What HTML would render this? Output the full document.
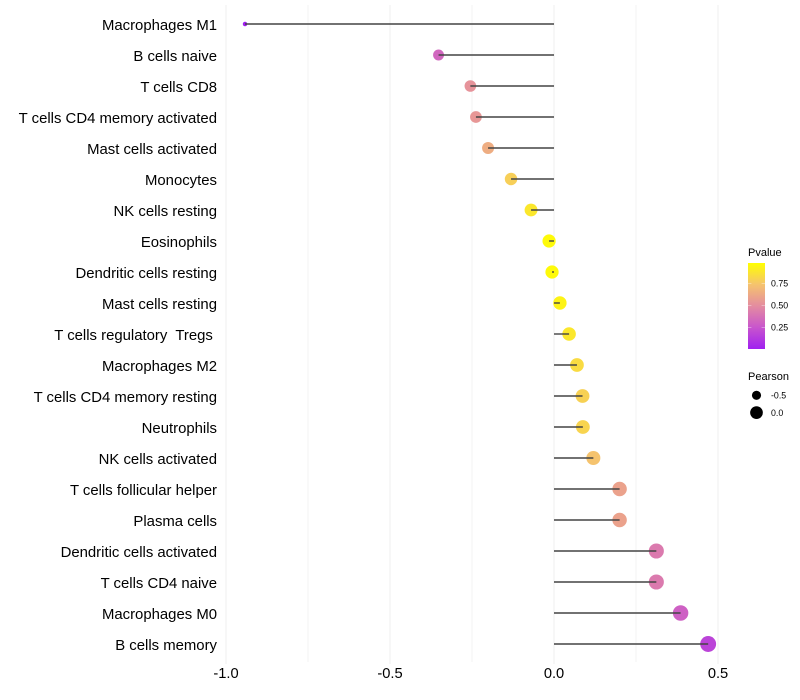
<!DOCTYPE html>
<html>
<head>
<meta charset="utf-8">
<title>Lollipop chart</title>
<style>
html,body{margin:0;padding:0;background:#fff;width:800px;height:700px;overflow:hidden}
svg{display:block}
text{font-family:"Liberation Sans",sans-serif;white-space:pre}
</style>
</head>
<body>
<svg id="chart" xmlns="http://www.w3.org/2000/svg" width="800" height="700" viewBox="0 0 800 700"></svg>
<script>
const categories = ["Macrophages M1","B cells naive","T cells CD8","T cells CD4 memory activated","Mast cells activated","Monocytes","NK cells resting","Eosinophils","Dendritic cells resting","Mast cells resting","T cells regulatory  Tregs ","Macrophages M2","T cells CD4 memory resting","Neutrophils","NK cells activated","T cells follicular helper","Plasma cells","Dendritic cells activated","T cells CD4 naive","Macrophages M0","B cells memory"];
const pearson = [-0.942,-0.352,-0.255,-0.238,-0.201,-0.131,-0.07,-0.015,-0.006,0.018,0.046,0.07,0.087,0.088,0.12,0.2,0.2,0.312,0.312,0.386,0.47];
const pvalue = [0.002,0.33,0.53,0.55,0.65,0.8,0.9,0.98,0.98,0.95,0.9,0.85,0.81,0.82,0.75,0.6,0.6,0.42,0.42,0.3,0.17];
const xTicks = [-1,-0.5,0,0.5];
const xTickLabels = ["-1.0","-0.5","0.0","0.5"];
const xMinorTicks = [-0.75,-0.25,0.25];
const colorTicks = [0.25,0.5,0.75];
const colorTickLabels = ["0.25","0.50","0.75"];
const sizeLegendValues = [-0.5,0];
const sizeLegendLabels = ["-0.5","0.0"];

const NS = "http://www.w3.org/2000/svg";
const svg = document.getElementById("chart");
function mk(tag, attrs, parent, txt){
  const e = document.createElementNS(NS, tag);
  for (const k in attrs) e.setAttribute(k, attrs[k]);
  if (txt !== undefined) e.textContent = txt;
  (parent || svg).appendChild(e);
  return e;
}
const xScale = v => 554 + v * 328;
const yScale = i => 24 + i * 31;
const diameter = v => Math.sqrt(Math.max(14, 161 + 155 * v));
const cstops = [[0,[160,32,240]],[0.25,[200,85,205]],[0.5,[228,140,160]],[0.75,[245,195,110]],[1,[255,255,0]]];
function colorScale(p){
  p = Math.min(1, Math.max(0, p));
  for (let i = 1; i < cstops.length; i++){
    if (p <= cstops[i][0]){
      const a = cstops[i-1], b = cstops[i], t = (p - a[0]) / (b[0] - a[0]);
      const c = a[1].map((x, j) => Math.round(x + (b[1][j] - x) * t));
      return "rgb(" + c.join(",") + ")";
    }
  }
  return "rgb(255,255,0)";
}

// grid
const gridG = mk("g", {});


xMinorTicks.forEach(v => {
  const l = mk("line", {x1:xScale(v), x2:xScale(v), y1:5, y2:662, stroke:"#f3f3f3", "stroke-width":1}, gridG);
  
  
});
xTicks.forEach(v => {
  const l = mk("line", {x1:xScale(v), x2:xScale(v), y1:5, y2:664, stroke:"#efefef", "stroke-width":1}, gridG);
  
  
});

// points, then stems on top
categories.forEach((c, i) => {
  const p = mk("circle", {cx:xScale(pearson[i]), cy:yScale(i), r:diameter(pearson[i]) / 2 + 0.3, fill:colorScale(pvalue[i])});
  
  
});
categories.forEach((c, i) => {
  const s = mk("line", {x1:xScale(0), x2:xScale(pearson[i]), y1:yScale(i), y2:yScale(i), stroke:"#444", "stroke-width":1.4});
  
  
  const t = mk("text", {x:217, y:yScale(i) + 6, "text-anchor":"end", "font-size":"14.9", fill:"#000"}, svg, c);
  
  
});

// x axis labels
xTicks.forEach((v, i) => {
  const t = mk("text", {x:xScale(v), y:678, "text-anchor":"middle", "font-size":"14.67", fill:"#000"}, svg, xTickLabels[i]);
  
  
});

// colour legend
const legendBottom = 349, legendPerUnit = 88, legendTop = 263;
const colorValueY = p => 349.4 - p * legendPerUnit;
const defs = mk("defs", {});
const grad = mk("linearGradient", {id:"pgrad", x1:0, y1:1, x2:0, y2:0}, defs);
for (let k = 0; k <= 20; k++){
  mk("stop", {offset:(k / 20), "stop-color":colorScale(k / 20)}, grad);
}
const cTitle = mk("text", {x:748, y:256, "font-size":"11", fill:"#000"}, svg, "Pvalue");


const bar = mk("rect", {x:748, y:legendTop, width:17, height:legendBottom - legendTop, fill:"url(#pgrad)"});


colorTicks.forEach((v, i) => {
  const y = colorValueY(v);
  const a = mk("line", {x1:748, x2:751.4, y1:y, y2:y, stroke:"#fff", "stroke-opacity":0.6, "stroke-width":0.6});
  
  
  const b = mk("line", {x1:761.6, x2:765, y1:y, y2:y, stroke:"#fff", "stroke-opacity":0.6, "stroke-width":0.6});
  
  
  const t = mk("text", {x:771, y:y + 3.2, "font-size":"8.8", fill:"#000"}, svg, colorTickLabels[i]);
  
  
});

// size legend
const sTitle = mk("text", {x:748, y:380, "font-size":"11", fill:"#000"}, svg, "Pearson");


sizeLegendValues.forEach((v, i) => {
  const y = 395.3 + i * 17.3;
  const c = mk("circle", {cx:756.5, cy:y, r:diameter(v) / 2, fill:"#000"});
  
  
  const t = mk("text", {x:771, y:y + 3.2, "font-size":"8.8", fill:"#000"}, svg, sizeLegendLabels[i]);
  
  
});
</script>
</body>
</html>
